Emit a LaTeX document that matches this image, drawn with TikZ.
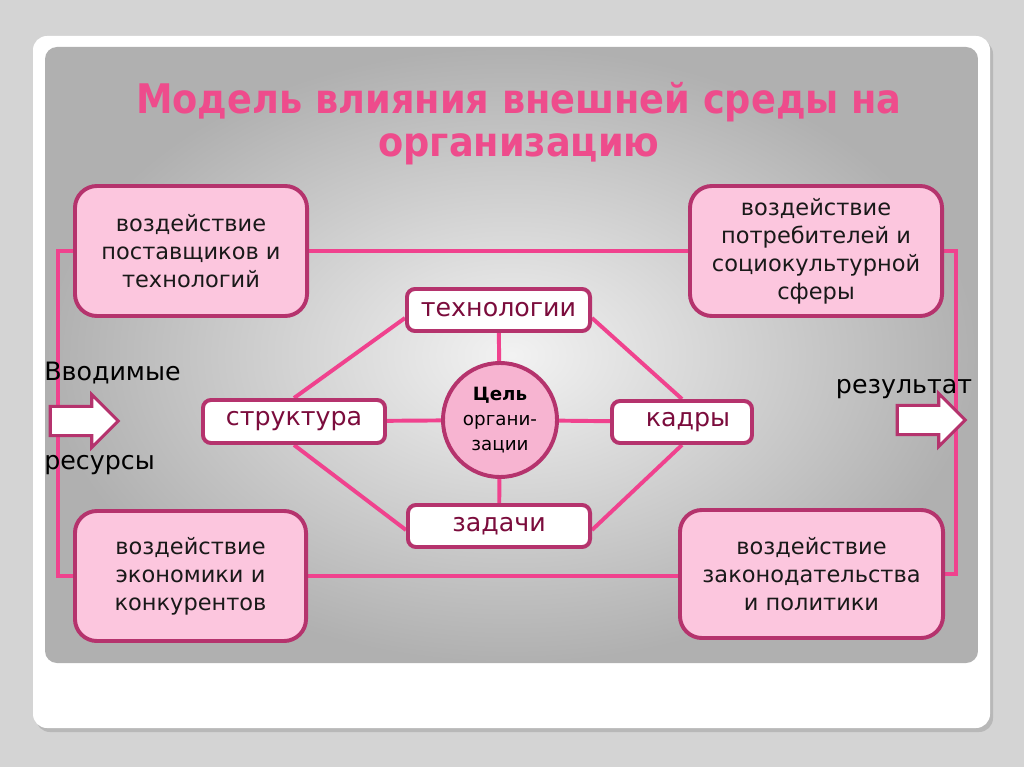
\documentclass[tikz,border=0pt]{standalone}
\usepackage{fontspec}
\setmainfont{DejaVu Sans}
\newfontfamily\titlefont{DejaVu Sans Condensed}
\usetikzlibrary{shapes.arrows,calc}
\pgfdeclarelayer{panel}
\pgfdeclarelayer{back}
\pgfsetlayers{panel,back,main}
\definecolor{boxfill}{HTML}{FCC6DE}
\definecolor{boxline}{HTML}{B5336D}
\definecolor{conn}{HTML}{F0428E}
\definecolor{innertxt}{HTML}{7B0C3C}
\definecolor{titlepink}{HTML}{EE4C8C}
\definecolor{circfill}{HTML}{F7B4D1}
\tikzset{
  outerbox/.style={draw=boxline, line width=2.8pt, fill=boxfill, rounded corners=0.55cm,
    inner sep=0pt, align=center, font=\fontsize{16}{20}\selectfont, text=black!90},
  innerbox/.style={draw=boxline, line width=2.8pt, fill=white, rounded corners=0.2cm,
    inner sep=0pt, align=center, font=\fontsize{18}{22}\selectfont, text=innertxt},
  connline/.style={draw=conn, line width=2.8pt},
  blockarrow/.style={single arrow, draw=boxline, line width=2.2pt, fill=white,
    inner sep=0.325cm, single arrow head extend=0.3cm, minimum height=1.7cm},
  sidelabel/.style={font=\fontsize{18}{22}\selectfont, text=black, inner sep=0pt}
}
\begin{document}
\begin{tikzpicture}[x=0.025cm, y=-0.025cm]
\useasboundingbox (0,0) rectangle (1024,767);
\begin{pgfonlayer}{panel}
  \fill[black!17] (0,0) rectangle (1024,767);
  \fill[black!28, rounded corners=0.35cm] (36,40) rectangle (993,732);
  \fill[white, rounded corners=0.35cm] (33,36) rectangle (990,728);
  \shade[inner color=black!5, outer color=black!31, rounded corners=0.3cm] (45,47) rectangle (978,663);
\end{pgfonlayer}

% title
\node (title) [font=\titlefont\bfseries\fontsize{29}{30.6}\selectfont, text=titlepink, align=center, inner sep=0pt] at (519,124)
  {Модель влияния внешней среды на\\организацию};

% outer boxes
\node (tl) [outerbox, minimum width=5.8cm, minimum height=3.25cm] at (191,251)
  {воздействие\\поставщиков и\\технологий};
\node (tr) [outerbox, minimum width=6.3cm, minimum height=3.25cm] at (816,251)
  {воздействие\\потребителей и\\социокультурной\\сферы};
\node (bl) [outerbox, minimum width=5.775cm, minimum height=3.25cm] at (190.5,576)
  {воздействие\\экономики и\\конкурентов};
\node (br) [outerbox, minimum width=6.575cm, minimum height=3.2cm] at (811.5,574)
  {воздействие\\законодательства\\и политики};

% inner boxes
\node (tech) [innerbox, minimum width=4.575cm, minimum height=1.05cm] at (498.5,310) {технологии};
\node (str) [innerbox, minimum width=4.55cm, minimum height=1.075cm] at (294,421.5) {структура};
\node (kad) [innerbox, minimum width=3.5cm, minimum height=1.05cm] at (682,422) {\hspace*{0.3cm}кадры};
\node (zad) [innerbox, minimum width=4.55cm, minimum height=1.05cm] at (499,526) {задачи};
\node (goal) [circle, draw=boxline, line width=2.8pt, fill=circfill, minimum size=2.85cm, inner sep=0pt,
  align=center, font=\fontsize{13}{17.8}\selectfont] at (500,420)
  {{\bfseries Цель}\\органи-\\зации};

% connectors
\begin{pgfonlayer}{back}
  \draw[connline] (tl.east) -- (tr.west);
  \draw[connline] (bl.east) -- (bl.east -| br.west);
  \draw[connline] (tl.west) -- ++(-15,0) |- (bl.west);
  \draw[connline] (tr.east) -- ++(12,0) |- (br.east);
  \draw[connline] (tech) -- (goal);
  \draw[connline] (goal) -- (zad);
  \draw[connline] (str) -- (goal);
  \draw[connline] (goal) -- (kad);
  \draw[connline] ([yshift=-0.2cm]tech.west) -- (str.north);
  \draw[connline] ([yshift=-0.2cm]tech.east) -- (kad.north);
  \draw[connline] (str.south) -- ([yshift=-0.1cm]zad.west);
  \draw[connline] (kad.south) -- ([yshift=-0.1cm]zad.east);
\end{pgfonlayer}

% arrows and side labels
\node (inarrow) [blockarrow] at (77,421) {};
\node (outarrow) [blockarrow] at (924,420) {};
\node (in1) [sidelabel, anchor=west] at (44,373) {Вводимые};
\node (in2) [sidelabel, anchor=west] at (44,465) {ресурсы};
\node (out) [sidelabel] at (904,389) {результат};
\end{tikzpicture}
\end{document}
